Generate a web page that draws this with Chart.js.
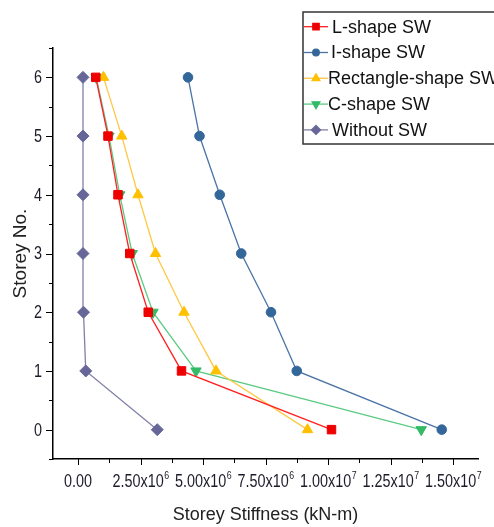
<!DOCTYPE html>
<html>
<head>
<meta charset="utf-8">
<script src="https://cdn.jsdelivr.net/npm/chart.js@4.4.0/dist/chart.umd.min.js"></script>
<style>
  html, body { margin: 0; padding: 0; background: #fff; }
  #wrap { width: 494px; height: 527px; position: relative; }
</style>
</head>
<body>
<div id="wrap"><canvas id="myChart"></canvas></div>
<script>
// storeys (y) and stiffness values (x, kN-m)
var storeys = [0, 1, 2, 3, 4, 5, 6];
var lShape = [10.14e6, 4.14e6, 2.81e6, 2.07e6, 1.6e6, 1.2e6, 0.71e6];
var iShape = [14.55e6, 8.75e6, 7.72e6, 6.53e6, 5.67e6, 4.86e6, 4.4e6];
var rectShape = [9.18e6, 5.52e6, 4.24e6, 3.1e6, 2.4e6, 1.75e6, 1.02e6];
var cShape = [13.73e6, 4.72e6, 3.0e6, 2.17e6, 1.67e6, 1.24e6, 0.73e6];
var withoutSW = [3.17e6, 0.31e6, 0.22e6, 0.2e6, 0.2e6, 0.2e6, 0.2e6];

var seriesNames = ['L-shape SW', 'I-shape SW', 'Rectangle-shape SW', 'C-shape SW', 'Without SW'];

var xTicks = [0, 2.5e6, 5e6, 7.5e6, 1e7, 1.25e7, 1.5e7];
var xTickText = ['0.00', '2.50x10', '5.00x10', '7.50x10', '1.00x10', '1.25x10', '1.50x10'];
var xTickExp = ['', '6', '6', '6', '7', '7', '7'];
var xMinor = [1.25e6, 3.75e6, 6.25e6, 8.75e6, 1.125e7, 1.375e7];
var yTicks = [0, 1, 2, 3, 4, 5, 6];
var yMinor = [-0.5, 0.5, 1.5, 2.5, 3.5, 4.5, 5.5, 6.5];

var FONT = '"Liberation Sans", Arial, sans-serif';
var SQUEEZE = 0.8;   // tick labels in the figure are horizontally condensed

// condensed text helper
function narrowText(ctx, txt, x, y, size, align) {
    ctx.save();
    ctx.font = size + 'px ' + FONT;
    var w = ctx.measureText(txt).width * SQUEEZE;
    var left = align === 'right' ? x - w : (align === 'center' ? x - w / 2 : x);
    ctx.translate(left, y);
    ctx.scale(SQUEEZE, 1);
    ctx.textAlign = 'left';
    ctx.fillText(txt, 0, 0);
    ctx.restore();
    return w;
}

// draws tick marks, tick labels and the legend box
var extras = {
    id: 'extras',
    afterDraw: function (chart) {
        var ctx = chart.ctx;
        var xs = chart.scales.x, ys = chart.scales.y;
        var a = chart.chartArea;
        ctx.save();
        ctx.strokeStyle = '#000';
        ctx.lineWidth = 1;
        ctx.beginPath();
        xTicks.forEach(function (v) {
            var p = Math.round(xs.getPixelForValue(v)) + 0.5;
            ctx.moveTo(p, a.bottom); ctx.lineTo(p, a.bottom + 6);
        });
        xMinor.forEach(function (v) {
            var p = Math.round(xs.getPixelForValue(v)) + 0.5;
            ctx.moveTo(p, a.bottom); ctx.lineTo(p, a.bottom + 4);
        });
        yTicks.forEach(function (v) {
            var p = Math.round(ys.getPixelForValue(v)) + 0.5;
            ctx.moveTo(a.left, p); ctx.lineTo(a.left - 7, p);
        });
        yMinor.forEach(function (v) {
            var p = Math.round(ys.getPixelForValue(v)) + 0.5;
            ctx.moveTo(a.left, p); ctx.lineTo(a.left - 4, p);
        });
        ctx.stroke();

        // tick labels
        ctx.fillStyle = '#1c1c2a';
        ctx.textBaseline = 'middle';
        yTicks.forEach(function (v) {
            narrowText(ctx, String(v), a.left - 11, ys.getPixelForValue(v) + 1, 18, 'right');
        });
        xTicks.forEach(function (v, i) {
            ctx.save();
            ctx.font = '18px ' + FONT;
            var wb = ctx.measureText(xTickText[i]).width * SQUEEZE;
            ctx.font = '11px ' + FONT;
            var we = xTickExp[i] ? ctx.measureText(xTickExp[i]).width * SQUEEZE : 0;
            ctx.restore();
            var cx = xs.getPixelForValue(v);
            var left = cx - (wb + we) / 2;
            var y = a.bottom + 23;
            narrowText(ctx, xTickText[i], left, y, 18, 'left');
            if (xTickExp[i]) narrowText(ctx, xTickExp[i], left + wb + 0.5, y - 6, 11, 'left');
        });

        // legend
        var bx = 303, by = 12, bw = 200, bh = 132;
        ctx.fillStyle = '#fff';
        ctx.fillRect(bx, by, bw, bh);
        ctx.strokeStyle = '#333';
        ctx.lineWidth = 1.5;
        ctx.strokeRect(bx, by, bw, bh);
        ctx.font = '18px ' + FONT;
        var textX = [332, 331, 328, 328, 332];
        chart.data.datasets.forEach(function (ds, i) {
            var y = 26.7 + i * 25.8;
            ctx.strokeStyle = ds.borderColor;
            ctx.lineWidth = 1.3;
            ctx.beginPath();
            ctx.moveTo(bx + 1, y); ctx.lineTo(bx + 25, y);
            ctx.stroke();
            ctx.fillStyle = ds.pointBackgroundColor;
            ctx.strokeStyle = ds.pointBackgroundColor;
            Chart.helpers.drawPoint(ctx, {
                pointStyle: ds.pointStyle,
                rotation: ds.pointRotation || 0,
                radius: ds.pointRadius - 1.5,
                borderWidth: 1
            }, bx + 13, y);
            ctx.fillStyle = '#111';
            ctx.textAlign = 'left';
            ctx.fillText(ds.label, textX[i], y + 1);
        });
        ctx.restore();
    }
};

var ctx = document.getElementById('myChart').getContext('2d');
var chart = new Chart(ctx, {
    type: 'line',
    data: {
        datasets: [{
            label: seriesNames[0],
            data: pts(lShape),
            borderColor: '#ff2020',
            pointBackgroundColor: '#ee0000',
            pointBorderColor: '#ee0000',
            pointStyle: 'rect',
            pointRadius: 6
        }, {
            label: seriesNames[1],
            data: pts(iShape),
            borderColor: '#4a74a6',
            pointBackgroundColor: '#336699',
            pointBorderColor: '#336699',
            pointStyle: 'circle',
            pointRadius: 4.8
        }, {
            label: seriesNames[2],
            data: pts(rectShape),
            borderColor: '#ffc844',
            pointBackgroundColor: '#ffc000',
            pointBorderColor: '#ffc000',
            pointStyle: 'triangle',
            pointRadius: 6
        }, {
            label: seriesNames[3],
            data: pts(cShape),
            borderColor: '#5ccb82',
            pointBackgroundColor: '#33bb66',
            pointBorderColor: '#33bb66',
            pointStyle: 'triangle',
            pointRotation: 180,
            pointRadius: 6
        }, {
            label: seriesNames[4],
            data: pts(withoutSW),
            borderColor: '#8080aa',
            pointBackgroundColor: '#666699',
            pointBorderColor: '#666699',
            pointStyle: 'rectRot',
            pointRadius: 6
        }]
    },
    options: {
        responsive: true,
        maintainAspectRatio: false,
        animation: false,
        layout: {padding: {top: 48, right: 16, left: 0, bottom: 0}},
        datasets: {line: {borderWidth: 1.3, fill: false, tension: 0, pointBorderWidth: 1, clip: false}},
        plugins: {legend: {display: false}, tooltip: {enabled: false}},
        scales: {
            x: {
                type: 'linear',
                min: -1e6,
                max: 1.6e7,
                afterBuildTicks: function (s) { s.ticks = xTicks.map(function (v) { return {value: v}; }); },
                afterFit: function (s) { s.height = 68; s.paddingLeft = 0; s.paddingRight = 0; },
                grid: {display: false, drawTicks: false},
                border: {display: true, color: '#000', width: 1.5},
                ticks: {display: false},
                title: {
                    display: true, text: 'Storey Stiffness (kN-m)', color: '#222',
                    font: {family: FONT, size: 18},
                    padding: {top: 0, bottom: 1}
                }
            },
            y: {
                type: 'linear',
                min: -0.5,
                max: 6.5,
                afterBuildTicks: function (s) { s.ticks = yTicks.map(function (v) { return {value: v}; }); },
                afterFit: function (s) { s.width = 53; s.paddingTop = 0; s.paddingBottom = 0; },
                grid: {display: false, drawTicks: false},
                border: {display: true, color: '#000', width: 1.5},
                ticks: {display: false},
                title: {
                    display: true, text: 'Storey No.', color: '#222',
                    font: {family: FONT, size: 19},
                    padding: {top: 9}
                }
            }
        }
    },
    plugins: [extras]
});

function pts(xs) {
    return xs.map(function (v, i) { return {x: v, y: storeys[i]}; });
}
</script>
</body>
</html>
